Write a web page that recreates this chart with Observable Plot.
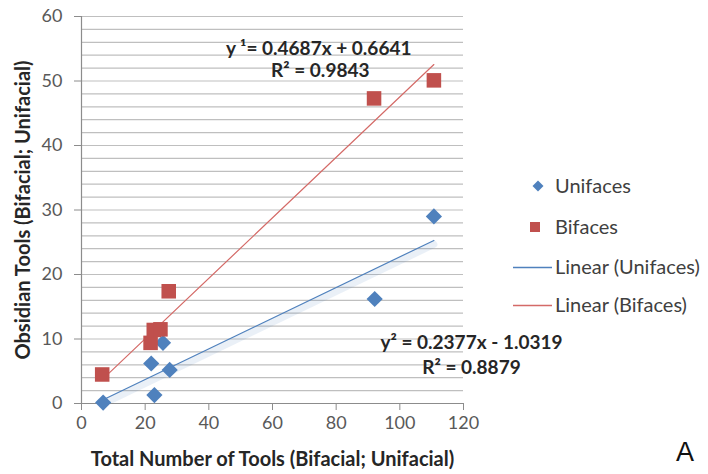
<!DOCTYPE html>
<html>
<head>
<meta charset="utf-8">
<script src="https://cdn.jsdelivr.net/npm/d3@7"></script>
<script src="https://cdn.jsdelivr.net/npm/@observablehq/plot@0.6"></script>
<style>
  html, body { margin: 0; padding: 0; background: #fff; }
  #wrap { position: relative; width: 708px; height: 474px; font-family: Lato, "Open Sans", sans-serif; }
  #wrap svg { font-family: Lato, "Open Sans", sans-serif; }
  g[aria-label="y-axis label"] text, g[aria-label="x-axis label"] text { font-weight: bold; fill: #262626; font-size: 20px; }
  .legend { position: absolute; left: 512px; top: 170px; font-size: 20px; color: #404040; }
  .legend .row { position: absolute; left: 0; height: 22px; white-space: nowrap; }
  .legend svg { position: absolute; left: 0; top: 0; }
  .legend span { position: absolute; left: 43px; top: -1px; line-height: 22px; }
  .corner { position: absolute; left: 676px; top: 437px; font-size: 27px; color: #111; font-family: "Liberation Sans", Arial, sans-serif; }
</style>
</head>
<body>
<div id="wrap"></div>
<script>
// ---- data ----
const unifacesX = [6.8, 21.9, 22.9, 25.6, 27.7, 92.1, 110.7];
const unifacesY = [0.15, 6.2, 1.3, 9.4, 5.2, 16.2, 29.0];
const bifacesX = [6.5, 21.7, 22.7, 24.8, 27.4, 91.9, 110.7];
const bifacesY = [4.5, 9.4, 11.4, 11.5, 17.4, 47.3, 50.1];
// trendline coefficients shown on the chart
const uniSlope = 0.2377, uniIntercept = -1.0319;
const biSlope = 0.4687, biIntercept = 0.6641;
const xTicks = [0, 20, 40, 60, 80, 100, 120];
const yTicks = [0, 10, 20, 30, 40, 50, 60];
const gridY = d3.range(2, 61, 2);
const labelsText = ["y \u00b9= 0.4687x + 0.6641", "R\u00b2 = 0.9843", "y\u00b2 = 0.2377x - 1.0319", "R\u00b2 = 0.8879"];
const labelsX = [74.5, 75, 122.5, 122.5];
const labelsY = [54.9, 51.6, 9.4, 5.5];

const uni = unifacesX.map((x, i) => ({x, y: unifacesY[i]}));
const bi = bifacesX.map((x, i) => ({x, y: bifacesY[i]}));
const uniX = d3.extent(unifacesX), biX = d3.extent(bifacesX);
const uniLine = uniX.map(x => ({x, y: uniSlope * x + uniIntercept}));
const biLine = biX.map(x => ({x, y: biSlope * x + biIntercept}));
const labels = labelsText.map((t, i) => ({t, x: labelsX[i], y: labelsY[i]}));

const BLUE = "#4F81BD", RED = "#C0504D";

const chart = Plot.plot({
  width: 708,
  height: 474,
  marginLeft: 81,
  marginRight: 245,
  marginTop: 16,
  marginBottom: 71,
  style: {fontSize: "18px", color: "#595959", background: "transparent"},
  x: {domain: [0, 120]},
  y: {domain: [0, 60]},
  marks: [
    Plot.ruleY(gridY, {stroke: "#bfbfbf", strokeWidth: 1.2}),
    Plot.ruleX([0], {stroke: "#8c8c8c", strokeWidth: 1.2}),
    Plot.ruleY([0], {stroke: "#8c8c8c", strokeWidth: 1.2}),
    Plot.axisY({ticks: yTicks, tickSize: 7, tickPadding: 12, stroke: "#8c8c8c",
      label: "Obsidian Tools (Bifacial; Unifacial)", labelAnchor: "center", labelArrow: "none", labelOffset: 66}),
    Plot.axisX({ticks: xTicks, tickSize: 7, tickPadding: 6, stroke: "#8c8c8c",
      label: "Total Number of Tools (Bifacial; Unifacial)", labelAnchor: "center", labelArrow: "none", labelOffset: 62}),
    Plot.line(uniLine, {x: "x", y: "y", stroke: BLUE, strokeOpacity: 0.12, strokeWidth: 7, dy: 4}),
    Plot.line(uniLine, {x: "x", y: "y", stroke: BLUE, strokeWidth: 1.2}),
    Plot.line(biLine, {x: "x", y: "y", stroke: "#d46a67", strokeWidth: 1.2}),
    Plot.dot(uni, {x: "x", y: "y", symbol: "diamond2", r: 7.3, fill: BLUE, stroke: "none"}),
    Plot.dot(bi, {x: "x", y: "y", symbol: "square", r: 8.2, fill: RED, stroke: "none"}),
    Plot.text(labels, {x: "x", y: "y", text: "t", fontSize: 19, fontWeight: "bold", fill: "#262626", textAnchor: "middle", clip: false})
  ]
});
document.getElementById("wrap").appendChild(chart);

// legend (HTML)
const legendItems = [
  {label: "Unifaces", kind: "diamond", color: BLUE, top: 5},
  {label: "Bifaces", kind: "square", color: RED, top: 46},
  {label: "Linear (Unifaces)", kind: "line", color: BLUE, top: 86},
  {label: "Linear (Bifaces)", kind: "line", color: "#d46a67", top: 124}
];
const leg = document.createElement("div");
leg.className = "legend";
for (const it of legendItems) {
  const row = document.createElement("div");
  row.className = "row";
  row.style.top = it.top + "px";
  let sym = "";
  if (it.kind === "diamond") sym = `<svg width="42" height="22"><path d="M26,5.5 L31.5,11 L26,16.5 L20.5,11 Z" fill="${it.color}"/></svg>`;
  else if (it.kind === "square") sym = `<svg width="42" height="22"><rect x="18" y="6" width="10" height="10" fill="${it.color}"/></svg>`;
  else sym = `<svg width="42" height="22"><line x1="1" x2="40" y1="11.5" y2="11.5" stroke="${it.color}" stroke-width="1.3"/></svg>`;
  row.innerHTML = sym + `<span>${it.label}</span>`;
  leg.appendChild(row);
}
document.getElementById("wrap").appendChild(leg);
const corner = document.createElement("div");
corner.className = "corner";
corner.textContent = "A";
document.getElementById("wrap").appendChild(corner);
</script>
</body>
</html>
